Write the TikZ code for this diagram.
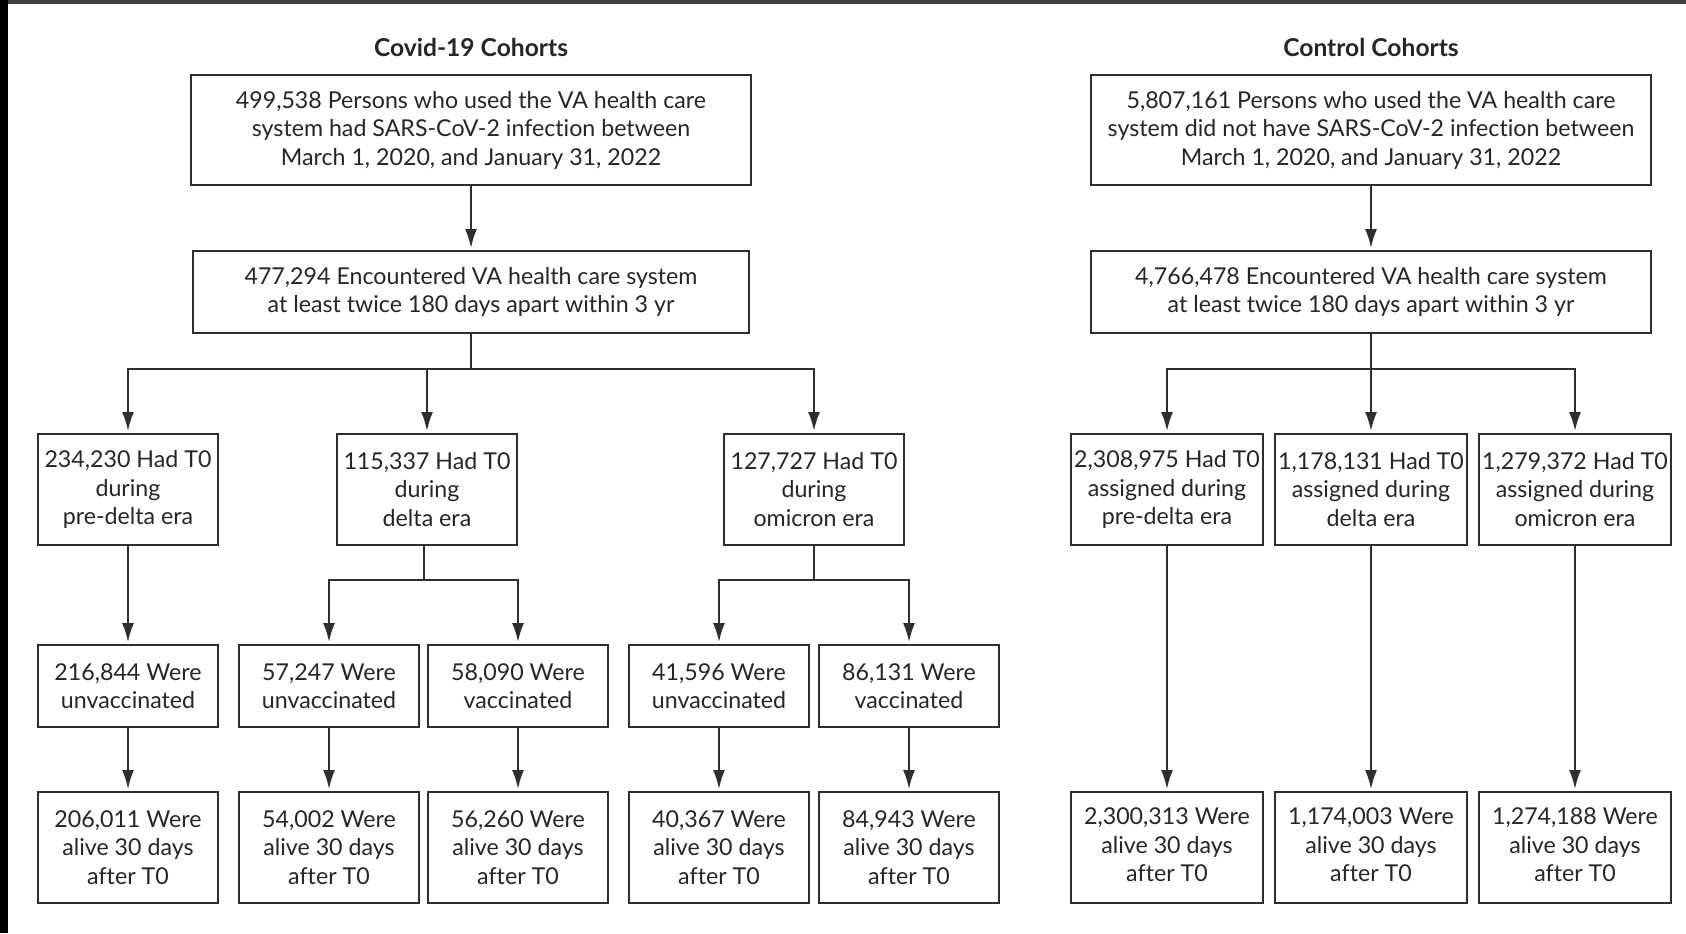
\documentclass[tikz,border=0pt]{standalone}
\usepackage{fontspec}
\setmainfont{Lato}[Ligatures=NoCommon]
\usetikzlibrary{arrows.meta}
\definecolor{linec}{HTML}{2E2E2E}
\definecolor{textc}{HTML}{262626}
\newcommand{\upstack}[1]{\raisebox{2pt}{\begin{tabular}{@{}c@{}}#1\end{tabular}}}
\tikzset{
  box/.style={draw=linec, line width=1pt, fill=white, inner sep=0pt, align=center,
    text=textc, font=\fontsize{11.6}{14.25}\selectfont},
  bigbox/.style={box, minimum width=280pt, minimum height=55pt},
  midbox/.style={box, minimum width=278pt, minimum height=41pt},
  erabox/.style={box, minimum width=90pt, minimum height=55.5pt},
  vacbox/.style={box, minimum width=90pt, minimum height=41pt},
  ctlbox/.style={box, minimum width=96pt, minimum height=55.5pt},
  title/.style={font=\bfseries\fontsize{12.3}{15}\selectfont, text=textc, inner sep=0pt},
  conn/.style={draw=linec, line width=1pt},
  arr/.style={conn, -{Latex[length=9.5pt,width=6pt]}, shorten >=1pt},
}
\begin{document}
\begin{tikzpicture}[x=0.5pt,y=-0.5pt]
\useasboundingbox (0,0) rectangle (1686,933);
\fill[white] (0,0) rectangle (1686,933);
\fill[black!75] (0,0) rectangle (1686,4);
\fill[black] (0,0) rectangle (8,933);

% titles
\node[title] (tcov) at (471,47) {Covid-19 Cohorts};
\node[title] (tctl) at (1371,47) {Control Cohorts};

% Covid-19 cohorts
\node[bigbox] (c1) at (471,130) {499,538 Persons who used the VA health care\\system had SARS-CoV-2 infection between\\March 1, 2020, and January 31, 2022};
\node[midbox] (c2) at (471,292) {477,294 Encountered VA health care system\\at least twice 180 days apart within 3 yr};
\node[erabox] (cA) at (128,489.5) {234,230 Had T0\\during\\pre-delta era};
\node[erabox] (cB) at (427,489.5) {115,337 Had T0\\during\\delta era};
\node[erabox] (cC) at (814,489.5) {127,727 Had T0\\during\\omicron era};
\node[vacbox] (vA) at (128,686) {216,844 Were\\unvaccinated};
\node[vacbox] (vB1) at (329,686) {57,247 Were\\unvaccinated};
\node[vacbox] (vB2) at (518,686) {58,090 Were\\vaccinated};
\node[vacbox] (vC1) at (719,686) {41,596 Were\\unvaccinated};
\node[vacbox] (vC2) at (909,686) {86,131 Were\\vaccinated};
\node[erabox] (aA) at (128,847.5) {206,011 Were\\alive 30 days\\after T0};
\node[erabox] (aB1) at (329,847.5) {54,002 Were\\alive 30 days\\after T0};
\node[erabox] (aB2) at (518,847.5) {56,260 Were\\alive 30 days\\after T0};
\node[erabox] (aC1) at (719,847.5) {40,367 Were\\alive 30 days\\after T0};
\node[erabox] (aC2) at (909,847.5) {84,943 Were\\alive 30 days\\after T0};

% Control cohorts
\node[bigbox] (k1) at (1371,130) {5,807,161 Persons who used the VA health care\\system did not have SARS-CoV-2 infection between\\March 1, 2020, and January 31, 2022};
\node[bigbox, minimum height=41pt] (k2) at (1371,292) {4,766,478 Encountered VA health care system\\at least twice 180 days apart within 3 yr};
\node[ctlbox] (kA) at (1167,489.5) {2,308,975 Had T0\\assigned during\\pre-delta era};
\node[ctlbox] (kB) at (1371,489.5) {1,178,131 Had T0\\assigned during\\delta era};
\node[ctlbox] (kC) at (1575,489.5) {1,279,372 Had T0\\assigned during\\omicron era};
\node[ctlbox] (ka) at (1167,847.5) {\upstack{2,300,313 Were\\alive 30 days\\after T0}};
\node[ctlbox] (kb) at (1371,847.5) {\upstack{1,174,003 Were\\alive 30 days\\after T0}};
\node[ctlbox] (kc) at (1575,847.5) {\upstack{1,274,188 Were\\alive 30 days\\after T0}};

% branch points
\coordinate (cbr) at (471,369);
\coordinate (cBbr) at (424,580);
\coordinate (cCbr) at (814,580);
\coordinate (kbr) at (1371,369);

% Covid connectors
\draw[arr] (c1) -- (c2);
\draw[conn] (c2.south) -- (cbr);
\draw[arr] (cbr) -| (cA.north);
\draw[arr] (cbr) -| (cB.north);
\draw[arr] (cbr) -| (cC.north);
\draw[arr] (cA) -- (vA);
\draw[conn] (cB.south -| cBbr) -- (cBbr);
\draw[arr] (cBbr) -| (vB1.north);
\draw[arr] (cBbr) -| (vB2.north);
\draw[conn] (cC.south) -- (cCbr);
\draw[arr] (cCbr) -| (vC1.north);
\draw[arr] (cCbr) -| (vC2.north);
\draw[arr] (vA) -- (aA);
\draw[arr] (vB1) -- (aB1);
\draw[arr] (vB2) -- (aB2);
\draw[arr] (vC1) -- (aC1);
\draw[arr] (vC2) -- (aC2);

% Control connectors
\draw[arr] (k1) -- (k2);
\draw[conn] (k2.south) -- (kbr);
\draw[arr] (kbr) -| (kA.north);
\draw[arr] (kbr) -- (kB.north);
\draw[arr] (kbr) -| (kC.north);
\draw[arr] (kA) -- (ka);
\draw[arr] (kB) -- (kb);
\draw[arr] (kC) -- (kc);
\end{tikzpicture}
\end{document}
